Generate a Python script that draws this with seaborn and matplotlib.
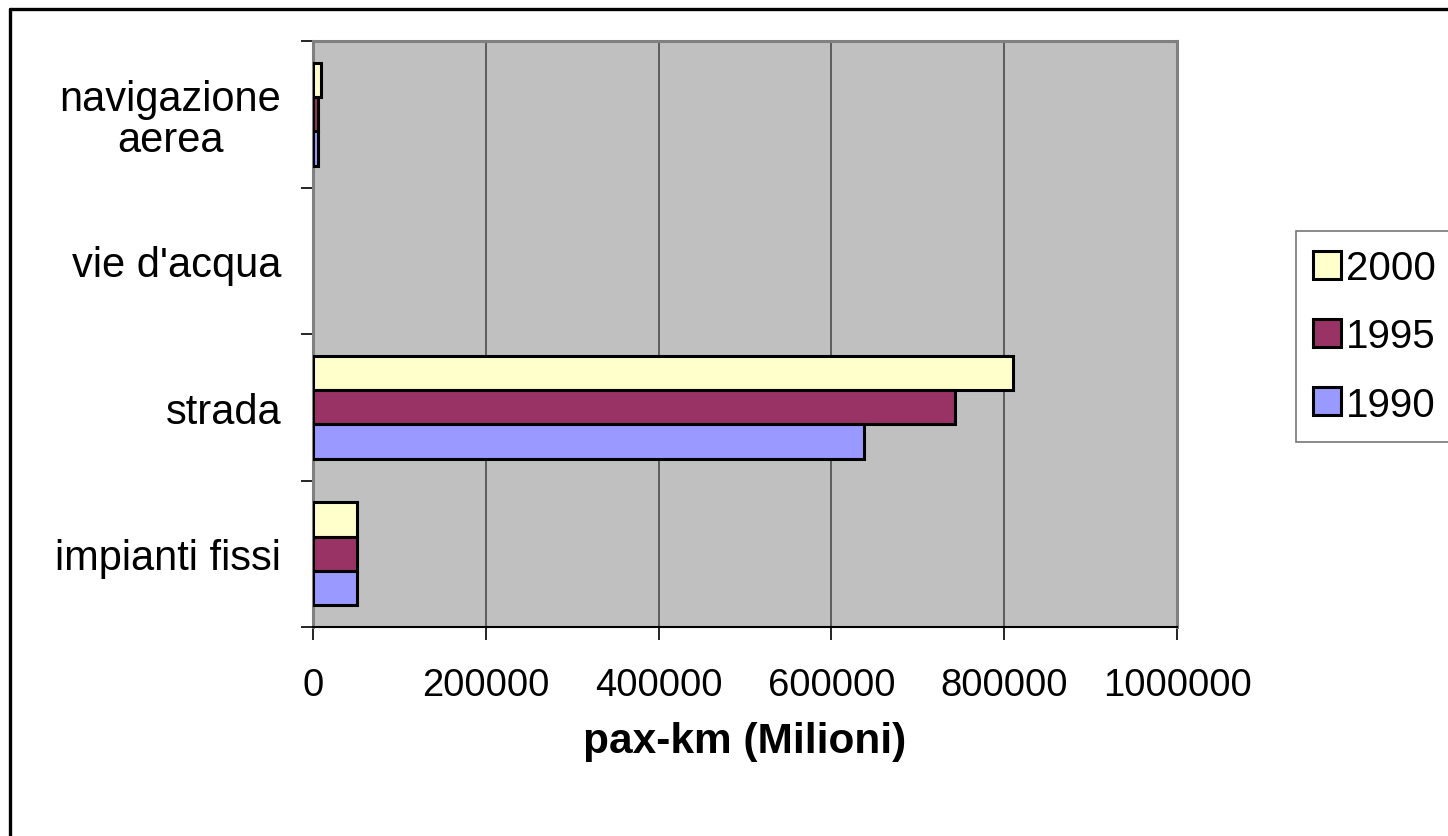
import matplotlib
matplotlib.use("Agg")
import matplotlib.pyplot as plt
from matplotlib.lines import Line2D
import seaborn as sns
import pandas as pd

# Passenger-km by transport mode (millions)
categories = ["navigazione\naerea", "vie d'acqua", "strada", "impianti fissi"]
years = ["2000", "1995", "1990"]
v2000 = [9500, 0, 810000, 51000]
v1995 = [5500, 0, 743000, 51000]
v1990 = [6000, 0, 638000, 51000]
x_ticks = [0, 200000, 400000, 600000, 800000, 1000000]
colors = {"2000": "#FFFFCC", "1995": "#993366", "1990": "#9999FF"}

rows = []
for year, vals in zip(years, [v2000, v1995, v1990]):
    for cat, v in zip(categories, vals):
        rows.append({"modo": cat, "anno": year, "valore": v})
df = pd.DataFrame(rows)

sns.set_style("white")
plt.rcParams["font.family"] = ["Liberation Sans", "DejaVu Sans"]
plt.rcParams["text.color"] = "black"
plt.rcParams["xtick.color"] = "black"
plt.rcParams["ytick.color"] = "black"
plt.rcParams["axes.labelcolor"] = "black"

fig = plt.figure(figsize=(14.48, 8.37), dpi=100)
ax = fig.add_axes([313 / 1448, 1 - 628 / 837, (1177 - 313) / 1448, (628 - 42) / 837])
ax.set_facecolor("#C0C0C0")

sns.barplot(data=df, y="modo", x="valore", hue="anno", hue_order=years,
            order=categories, palette=colors, saturation=1, orient="h", width=0.7,
            edgecolor="black", linewidth=2.2, legend=False, ax=ax, zorder=3)

# hide outlines of zero-length bars
for p in ax.patches:
    if p.get_width() == 0:
        p.set_linewidth(0)

ax.set_xlim(0, 1000000)
ax.set_ylim(3.5, -0.5)
ax.set_xticks(x_ticks)
ax.set_xticklabels([str(t) for t in x_ticks], fontsize=27.5)
ax.tick_params(axis="x", direction="out", length=9, width=1.2, color="black", pad=20, bottom=True)

# y ticks: labels centred on categories, tick marks between them
ax.set_yticks(range(len(categories)))
ax.set_yticklabels(categories, fontsize=30, multialignment="center", linespacing=1.05)
ax.tick_params(axis="y", which="major", length=0, pad=23)
ax.set_yticks([-0.5, 0.5, 1.5, 2.5, 3.5], minor=True)
ax.tick_params(axis="y", which="minor", direction="out", length=9, width=1.2,
               color="black", left=True)

ax.grid(axis="x", color="#555555", linewidth=1.3, zorder=1)
ax.grid(axis="y", visible=False)
ax.set_axisbelow(True)

for side in ["top", "right", "left"]:
    ax.spines[side].set_color("#808080")
    ax.spines[side].set_linewidth(2.2)
ax.spines["bottom"].set_color("black")
ax.spines["bottom"].set_linewidth(1.5)

ax.set_ylabel("")
ax.set_xlabel("pax-km (Milioni)", fontsize=30.5, fontweight="bold", labelpad=13)

handles = [Line2D([], [], marker="s", linestyle="none", markersize=19.5,
                  markerfacecolor=colors[y], markeredgecolor="black",
                  markeredgewidth=2.2, label=y) for y in years]
leg = fig.legend(handles=handles, loc="upper left",
                 bbox_to_anchor=(1296 / 1448, 1 - 232 / 837),
                 fontsize=29, frameon=True, fancybox=False,
                 handlelength=0.65, handletextpad=0.15, labelspacing=0.75,
                 borderpad=0.45, borderaxespad=0)
leg.get_frame().set_edgecolor("#555555")
leg.get_frame().set_linewidth(1.2)

# outer chart frame (left and top edges)
fig.add_artist(Line2D([9.5 / 1448, 9.5 / 1448], [0, 1 - 9.5 / 837],
                      transform=fig.transFigure, color="black", linewidth=2.4))
fig.add_artist(Line2D([9.5 / 1448, 1], [1 - 9.5 / 837, 1 - 9.5 / 837],
                      transform=fig.transFigure, color="black", linewidth=2.4))

fig.savefig("out.png", dpi=100, facecolor="white")
